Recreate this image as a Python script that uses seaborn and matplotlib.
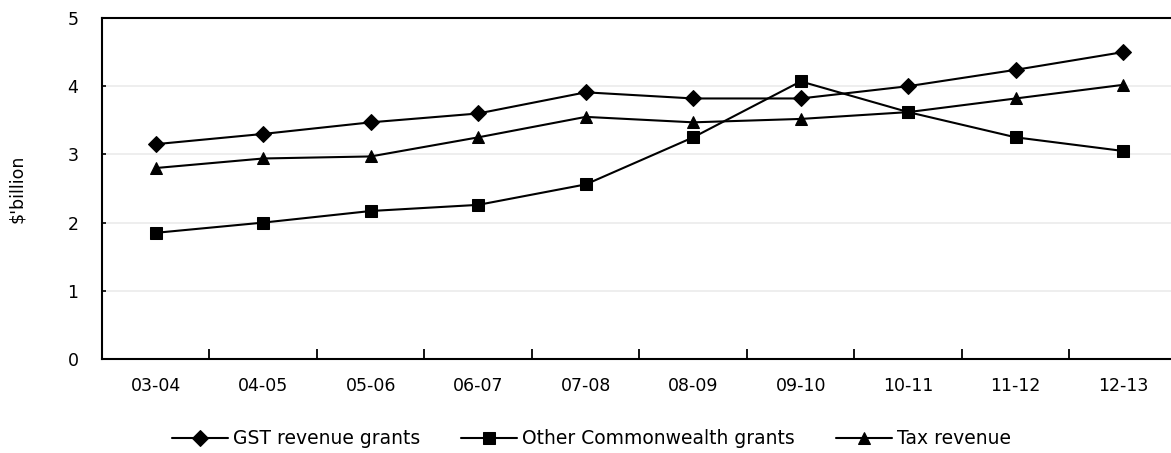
import matplotlib
matplotlib.use("Agg")
import matplotlib.pyplot as plt
from matplotlib.ticker import FixedLocator
import seaborn as sns
import pandas as pd

years = ["03-04", "04-05", "05-06", "06-07", "07-08",
         "08-09", "09-10", "10-11", "11-12", "12-13"]
gst_grants = [3.15, 3.30, 3.47, 3.60, 3.91, 3.82, 3.82, 4.00, 4.24, 4.50]
other_grants = [1.85, 2.00, 2.17, 2.26, 2.56, 3.25, 4.07, 3.62, 3.25, 3.05]
tax_revenue = [2.80, 2.94, 2.97, 3.25, 3.55, 3.47, 3.52, 3.62, 3.82, 4.02]
series_names = ["GST revenue grants", "Other Commonwealth grants", "Tax revenue"]

frames = []
for name, vals in zip(series_names, [gst_grants, other_grants, tax_revenue]):
    frames.append(pd.DataFrame({"year": years, "value": vals, "series": name}))
df = pd.concat(frames, ignore_index=True)
df["pos"] = df["year"].map({y: i for i, y in enumerate(years)})

sns.set_theme(style="white")
plt.rcParams["font.family"] = ["DejaVu Sans"]
plt.rcParams["text.color"] = "black"

fig = plt.figure(figsize=(11.71, 4.53), dpi=100)
ax = fig.add_axes([0.0871, 0.2075, 0.918, 0.7528])

sns.lineplot(
    data=df, x="pos", y="value", hue="series", style="series",
    hue_order=series_names, style_order=series_names,
    palette=["black"] * 3,
    markers={"GST revenue grants": "D", "Other Commonwealth grants": "s",
             "Tax revenue": "^"},
    dashes=False, linewidth=1.5, markersize=8.5, markeredgecolor="black",
    ax=ax,
)
# per-series marker sizes
marker_sizes = [8, 8.5, 9]
for line, ms in zip(ax.get_lines()[:3], marker_sizes):
    line.set_markersize(ms)

ax.set_xlim(-0.5, len(years) - 0.5)
ax.set_ylim(0, 5)
ax.set_yticks([0, 1, 2, 3, 4, 5])
ax.yaxis.grid(True, color="#ebebeb", linewidth=1.2)
ax.set_axisbelow(True)

ax.set_xticks(range(len(years)))
ax.set_xticklabels(years)
ax.xaxis.set_minor_locator(FixedLocator([i + 0.5 for i in range(len(years) - 1)]))
ax.tick_params(axis="x", which="major", length=0, pad=13, labelsize=12.5, colors="black")
ax.tick_params(axis="x", which="minor", direction="in", length=7, width=1.3,
               color="black", bottom=True)
ax.tick_params(axis="y", direction="in", length=3, width=1.2, left=True,
               pad=17, labelsize=12.5, colors="black")

for side in ["left", "bottom", "top", "right"]:
    ax.spines[side].set_visible(True)
    ax.spines[side].set_color("black")
    ax.spines[side].set_linewidth(1.5)

ax.set_xlabel("")
ax.set_ylabel("$'billion", fontsize=12.5, color="black", labelpad=30)

handles, labels = ax.get_legend_handles_labels()
for h, ms in zip(handles, marker_sizes):
    h.set_markersize(ms)
ax.legend_.remove()
fig.legend(handles, labels, loc="center", bbox_to_anchor=(0.505, 0.031),
           ncol=3, frameon=False, fontsize=13.5, handlelength=3.0,
           handletextpad=0.25, columnspacing=2.2, labelcolor="black")

fig.savefig("out.png", dpi=100)
